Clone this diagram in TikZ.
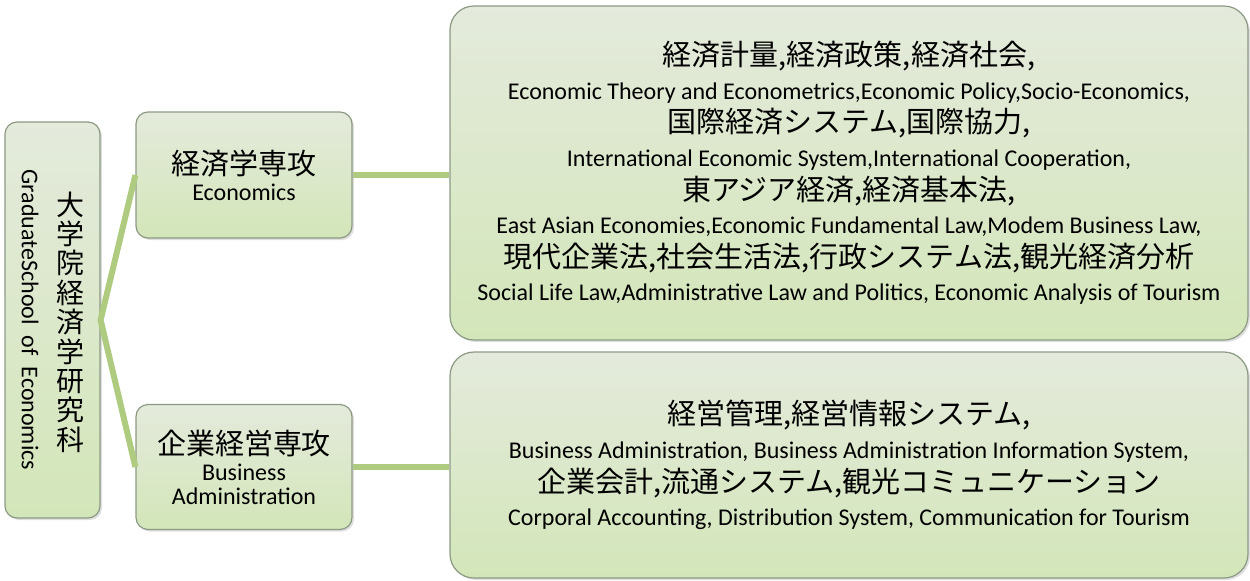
\documentclass[tikz,border=0pt]{standalone}
\usepackage{fontspec}
\setmainfont{Carlito}
\newfontfamily\jp{Noto Sans CJK JP}
\usetikzlibrary{shadows}

\definecolor{boxtop}{HTML}{E4EADC}
\definecolor{boxbottom}{HTML}{D3E6B9}
\definecolor{boxline}{HTML}{8C9A84}
\definecolor{linkgreen}{HTML}{AECB80}

\newcommand{\jpline}[1]{{\jp\fontsize{14.5}{17}\selectfont #1}}
\newcommand{\enline}[1]{{\fontsize{12}{17}\selectfont #1}}
\newcommand{\enmid}[1]{{\fontsize{12}{13}\selectfont #1}}

\tikzset{
    greenbox/.style={draw=boxline, line width=0.6pt, rounded corners=#1,
        top color=boxtop, bottom color=boxbottom,
        drop shadow={opacity=0.25, shadow xshift=1pt, shadow yshift=-1pt},
        inner sep=0pt, align=center},
    fieldtext/.style={font=\fontsize{12}{16.8}\selectfont}
}
\tikzset{link/.style={draw=linkgreen, line width=3pt}}

\begin{document}
\begin{tikzpicture}[x=0.5pt, y=-0.5pt]
                    \useasboundingbox (0,0) rectangle (1250,580);

                    \node[greenbox=6pt, minimum width=47.5pt, minimum height=198pt] (school) at (52.5,320) {};
                    \node[align=center, inner sep=0pt, font={\jp\fontsize{14}{14.7}\selectfont}] (schooljp) at (70,322)
                        {大\\学\\院\\経\\済\\学\\研\\究\\科};
                    \node[rotate=-90, inner sep=0pt] (schoolen) at (30,320)
                        {\enmid{GraduateSchool\ \ of\ \ Economics}};

                    \node[greenbox=6pt, minimum width=108pt, minimum height=63pt] (econ) at (244,175)
                        {\jpline{経済学専攻}\\[1pt] \enmid{Economics}};
                    \node[greenbox=6pt, minimum width=108pt, minimum height=62.5pt] (busi) at (244,467)
                        {\jpline{企業経営専攻}\\[1pt] \enmid{Business}\\ \enmid{Administration}};

                    \node[greenbox=12pt, fieldtext, minimum width=399pt, minimum height=167pt] (econfield) at (849,173)
                        {\jpline{経済計量,経済政策,経済社会,}\\
                         \enline{Economic Theory and Econometrics,Economic Policy,Socio-Economics,}\\
                         \jpline{国際経済システム,国際協力,}\\
                         \enline{International Economic System,International Cooperation,}\\
                         \jpline{東アジア経済,経済基本法,}\\
                         \enline{East Asian Economies,Economic Fundamental Law,Modem Business Law,}\\
                         \jpline{現代企業法,社会生活法,行政システム法,観光経済分析}\\
                         \enline{Social Life Law,Administrative Law and Politics, Economic Analysis of Tourism}};
                    \node[greenbox=12pt, fieldtext, minimum width=399pt, minimum height=113pt] (busifield) at (849,465)
                        {\jpline{経営管理,経営情報システム,}\\
                         \enline{Business Administration, Business Administration Information System,}\\
                         \jpline{企業会計,流通システム,観光コミュニケーション}\\
                         \enline{Corporal Accounting, Distribution System, Communication for Tourism}};

                    \draw[link] (econ.west) -- (school.east) -- (busi.west);
                    \draw[link] (econ.east) -- (econ.east -| econfield.west);
                    \draw[link] (busi.east) -- (busi.east -| busifield.west);

                \end{tikzpicture}
\end{document}
